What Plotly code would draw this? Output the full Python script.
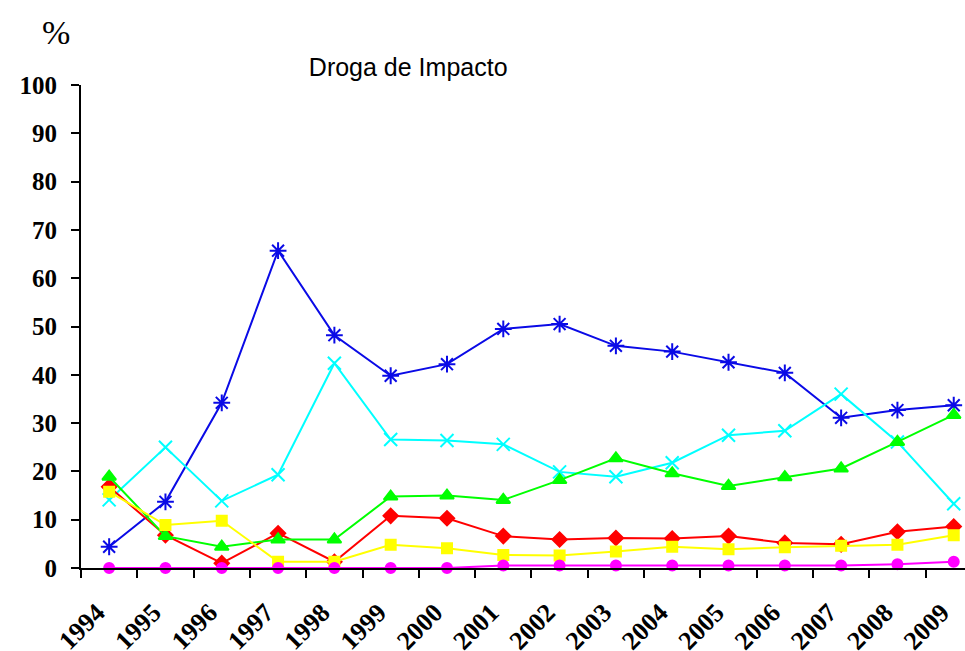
import plotly.graph_objects as go

years = [str(y) for y in range(1994, 2010)]

# % by year for each drug series
blue_vals = [4.4, 13.7, 34.2, 65.7, 48.2, 39.8, 42.2, 49.5, 50.5, 46.0, 44.8, 42.6, 40.4, 31.1, 32.7, 33.7]
cyan_vals = [14.1, 25.0, 13.9, 19.3, 42.4, 26.6, 26.4, 25.6, 19.9, 18.9, 21.8, 27.5, 28.4, 36.0, 26.1, 13.3]
red_vals = [16.8, 6.8, 1.0, 7.2, 1.3, 10.8, 10.3, 6.6, 5.9, 6.2, 6.1, 6.6, 5.2, 4.9, 7.5, 8.6]
green_vals = [18.9, 6.6, 4.4, 5.9, 5.9, 14.8, 15.0, 14.1, 18.2, 22.7, 19.6, 17.0, 18.8, 20.6, 26.1, 31.7]
yellow_vals = [15.8, 8.9, 9.8, 1.3, 1.3, 4.8, 4.1, 2.7, 2.6, 3.4, 4.4, 3.9, 4.3, 4.6, 4.8, 6.8]
magenta_vals = [0, 0, 0, 0, 0, 0, 0, 0.5, 0.5, 0.5, 0.5, 0.5, 0.5, 0.5, 0.8, 1.3]

series = [
    (blue_vals, '#0a0ae6', 'asterisk-open', 14),
    (cyan_vals, '#00ffff', 'x-thin-open', 13),
    (red_vals, '#ff0000', 'diamond', 11),
    (green_vals, '#00ff00', 'triangle-up', 12),
    (yellow_vals, '#ffff00', 'square', 10),
    (magenta_vals, '#ff00ff', 'circle', 10),
]

fig = go.Figure()
for vals, col, sym, sz in series:
    fig.add_trace(go.Scatter(
        x=years, y=vals, mode='lines+markers',
        line=dict(color=col, width=2),
        marker=dict(symbol=sym, size=sz, color=col, line=dict(color=col, width=2)),
        showlegend=False, cliponaxis=False))

tick_font = dict(family='Liberation Serif', size=25, color='black', weight='bold')

fig.update_layout(
    width=965, height=651,
    margin=dict(l=81, r=0, t=85, b=83),
    plot_bgcolor='white', paper_bgcolor='white',
    title=dict(text='Droga de Impacto', xref='container', x=0.423, xanchor='center',
               yref='container', y=1 - 67 / 651, yanchor='middle',
               font=dict(family='Liberation Sans', size=25, color='black')),
    xaxis=dict(type='category', range=[-0.5, 15.2], showline=True, linecolor='black', linewidth=2,
               ticks='outside', tickson='boundaries', ticklen=8, tickwidth=2, tickcolor='black',
               tickangle=-45, ticklabelstandoff=17, ticklabelshift=-12, showgrid=False,
               zeroline=False, automargin=False,
               tickfont=dict(family='Liberation Serif', size=26, color='black', weight='bold')),
    yaxis=dict(range=[0, 100], dtick=10, showline=True, linecolor='black', linewidth=2,
               ticks='outside', ticklen=8, tickwidth=2, tickcolor='black', showgrid=False,
               zeroline=False, automargin=False, ticklabelstandoff=9, tickfont=tick_font),
)

fig.add_annotation(text='%', xref='paper', yref='paper', x=-0.028, y=(651 - 85 - 30) / (651 - 85 - 83),
                   xanchor='center', yanchor='middle', showarrow=False,
                   font=dict(family='Liberation Serif', size=34, color='black'))

fig.write_html("out.html", config=dict(displayModeBar=False),
               post_script="document.body.style.margin='0';")
